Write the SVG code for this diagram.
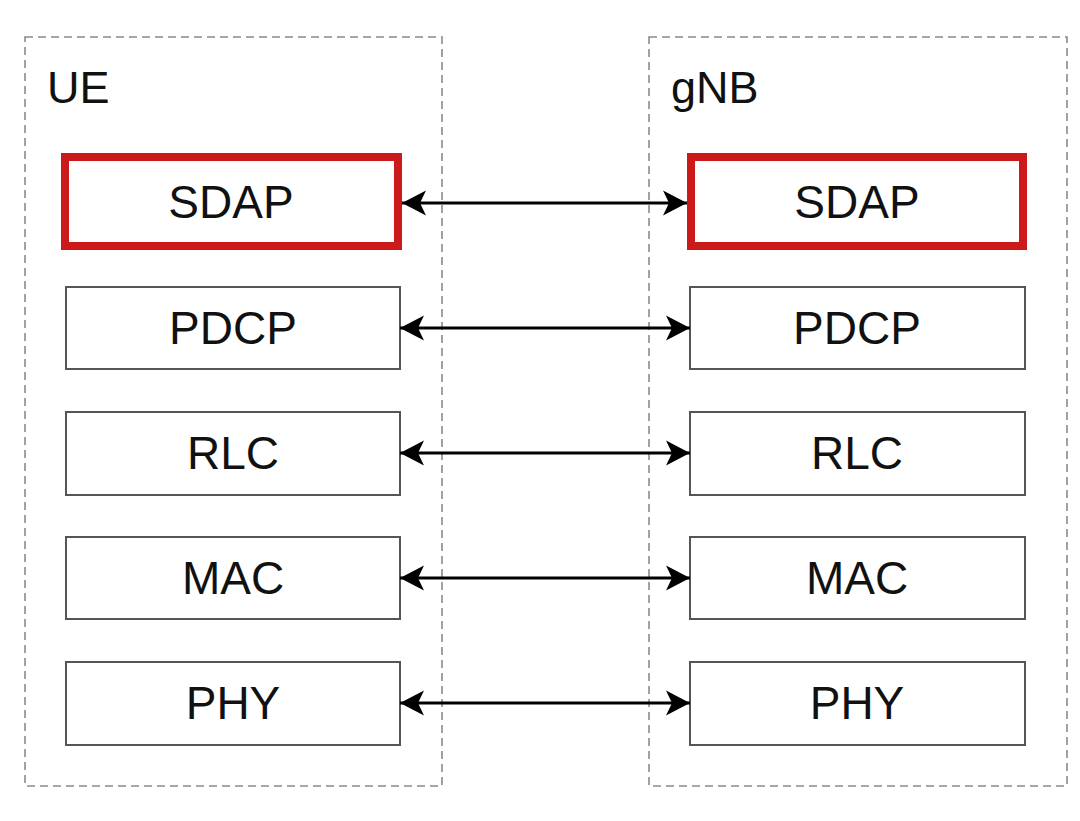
<svg xmlns="http://www.w3.org/2000/svg" width="1080" height="821" viewBox="0 0 1080 821">
<defs>
<style>
.container{fill:none;stroke:#8a8a8a;stroke-width:1.6;stroke-dasharray:8 5}
.title{font-family:"Liberation Sans",Arial,sans-serif;font-size:45px;fill:#111}
.box{fill:#fff;stroke:#555;stroke-width:2}
.hl{fill:#fff;stroke:#cc1a1a;stroke-width:8}
.lbl{font-family:"Liberation Sans",Arial,sans-serif;font-size:46px;fill:#111;text-anchor:middle;dominant-baseline:central}
.conn{stroke:#000;stroke-width:3.2;fill:none;marker-start:url(#arrS);marker-end:url(#arrE)}
</style>
<marker id="arrE" markerUnits="userSpaceOnUse" markerWidth="28" markerHeight="28" viewBox="-26 -14 28 28" refX="0" refY="0" orient="auto">
<path d="M0,0 L-24,-12.5 L-18,0 L-24,12.5 Z" fill="#000"/>
</marker>
<marker id="arrS" markerUnits="userSpaceOnUse" markerWidth="28" markerHeight="28" viewBox="-2 -14 28 28" refX="0" refY="0" orient="auto">
<path d="M0,0 L24,-12.5 L18,0 L24,12.5 Z" fill="#000"/>
</marker>
</defs>
<rect width="1080" height="821" fill="#fff"/>
<g id="ue">
<rect class="container" x="25" y="37" width="417" height="749"/>
<text class="title" x="47" y="103">UE</text>
</g>
<g id="gnb">
<rect class="container" x="649" y="37" width="418" height="749"/>
<text class="title" x="671" y="103">gNB</text>
</g>
<g id="ue-sdap"><rect class="hl" x="65" y="157" width="333" height="89"/><text class="lbl" x="231" y="202">SDAP</text></g>
<g id="ue-pdcp"><rect class="box" x="66" y="287" width="334" height="82"/><text class="lbl" x="233" y="328">PDCP</text></g>
<g id="ue-rlc"><rect class="box" x="66" y="412" width="334" height="83"/><text class="lbl" x="233" y="453">RLC</text></g>
<g id="ue-mac"><rect class="box" x="66" y="537" width="334" height="82"/><text class="lbl" x="233" y="578">MAC</text></g>
<g id="ue-phy"><rect class="box" x="66" y="662" width="334" height="83"/><text class="lbl" x="233" y="703">PHY</text></g>
<g id="gnb-sdap"><rect class="hl" x="691" y="157" width="332" height="89"/><text class="lbl" x="857" y="202">SDAP</text></g>
<g id="gnb-pdcp"><rect class="box" x="690" y="287" width="335" height="82"/><text class="lbl" x="857" y="328">PDCP</text></g>
<g id="gnb-rlc"><rect class="box" x="690" y="412" width="335" height="83"/><text class="lbl" x="857" y="453">RLC</text></g>
<g id="gnb-mac"><rect class="box" x="690" y="537" width="335" height="82"/><text class="lbl" x="857" y="578">MAC</text></g>
<g id="gnb-phy"><rect class="box" x="690" y="662" width="335" height="83"/><text class="lbl" x="857" y="703">PHY</text></g>
<g id="connectors">
<line class="conn" x1="402" y1="203" x2="687" y2="203"/>
<line class="conn" x1="400" y1="328" x2="690" y2="328"/>
<line class="conn" x1="400" y1="453" x2="690" y2="453"/>
<line class="conn" x1="400" y1="578" x2="690" y2="578"/>
<line class="conn" x1="400" y1="703" x2="690" y2="703"/>
</g>
</svg>
